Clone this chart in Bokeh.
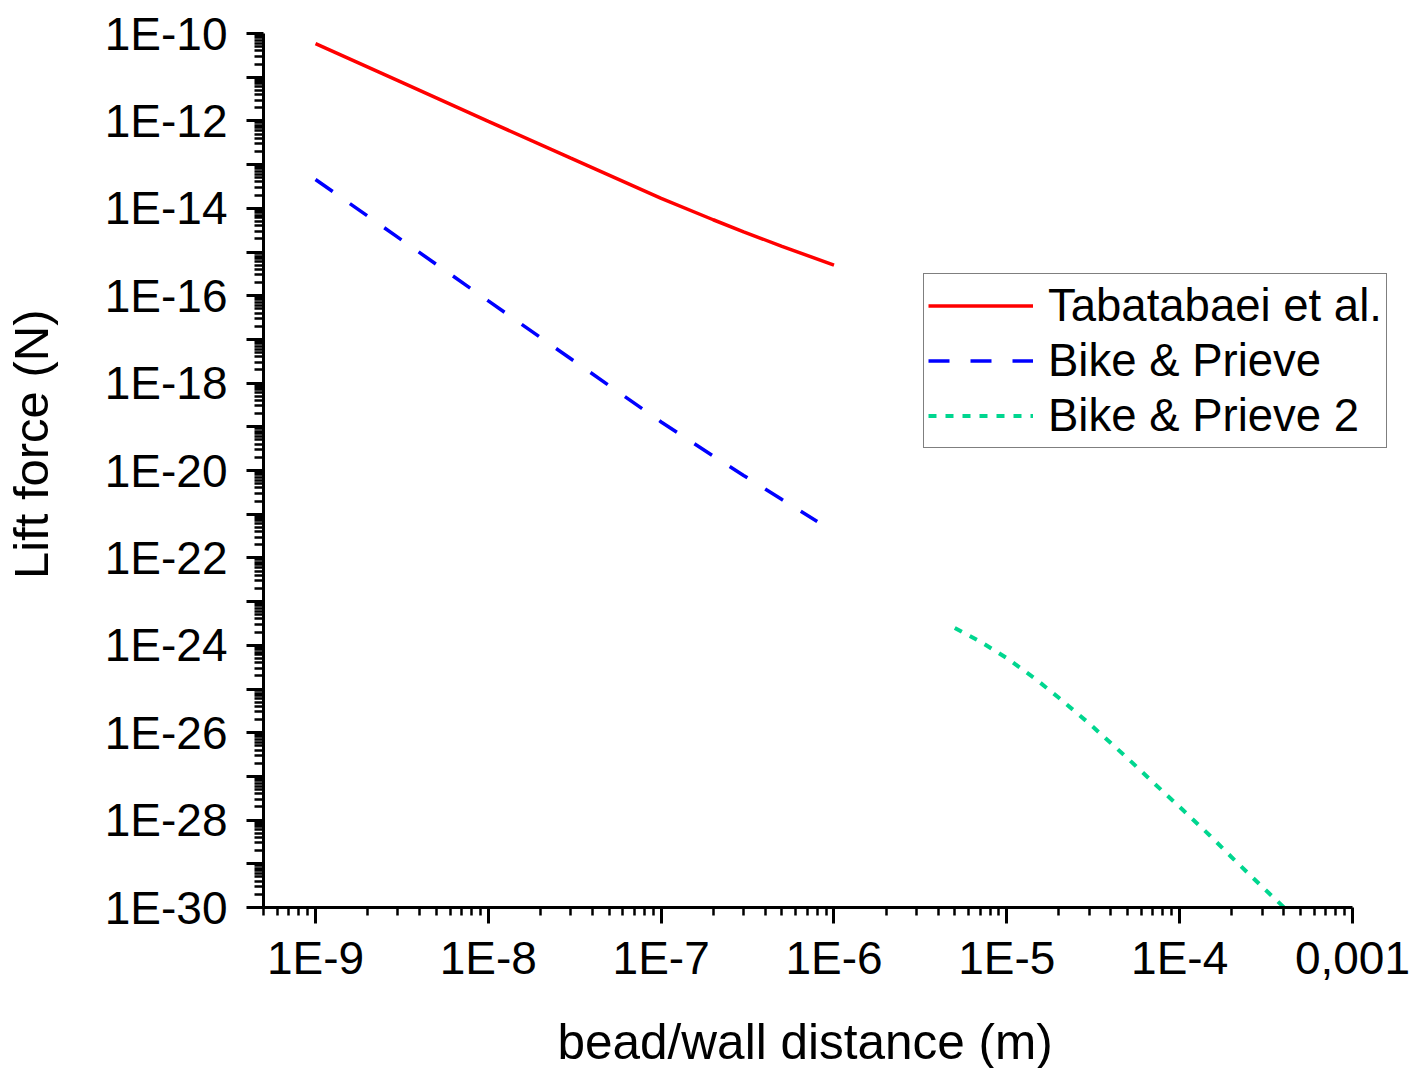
from bokeh.plotting import figure
from bokeh.models import Range1d, FixedTicker, CustomJSTickFormatter, Legend, LegendItem, Title
from bokeh.embed import file_html
from bokeh.resources import INLINE

# ---- data ----
x_tab = [1e-9, 3e-9, 1e-8, 3e-8, 1e-7, 2e-7, 3e-7, 5e-7, 1e-6]
y_tab = [5.89e-11, 8.34e-12, 9.77e-13, 1.40e-13, 1.68e-14, 5.47e-15, 2.90e-15, 1.35e-15, 5.0e-16]

x_bp = [1e-9, 3e-9, 1e-8, 3e-8, 1e-7, 2e-7, 3e-7, 5e-7, 8e-7]
y_bp = [4.57e-14, 2.16e-15, 7.6e-17, 3.6e-18, 1.29e-19, 2.14e-20, 7.7e-21, 2.16e-21, 6.8e-22]

x_bp2 = [5e-6, 7e-6, 1e-5, 1.5e-5, 2e-5, 3e-5, 5e-5, 7e-5, 1e-4, 1.5e-4, 2e-4, 3e-4, 4e-4, 4.5e-4]
y_bp2 = [2.5e-24, 1.23e-24, 5.1e-25, 1.58e-25, 6.3e-26, 1.62e-26, 2.6e-27, 7.4e-28, 2.0e-28,
         4.4e-29, 1.41e-29, 3.0e-30, 1.02e-30, 6.8e-31]

series_names = ["Tabatabaei et al.", "Bike & Prieve", "Bike & Prieve 2"]
x_title = "bead/wall distance (m)"
y_title = "Lift force (N)"

x_major = [1e-9, 1e-8, 1e-7, 1e-6, 1e-5, 1e-4, 1e-3]
x_tick_labels = ["1E-9", "1E-8", "1E-7", "1E-6", "1E-5", "1E-4", "0,001"]

y_major = [10.0 ** e for e in range(-30, -9)]
y_label_values = [10.0 ** e for e in range(-30, -9, 2)]
y_tick_labels = ["1E-30", "1E-28", "1E-26", "1E-24", "1E-22", "1E-20",
                 "1E-18", "1E-16", "1E-14", "1E-12", "1E-10"]

FONT = "Liberation Sans"

x_minor = [k * 10.0 ** e for e in range(-10, -3) for k in range(2, 10)]
y_minor = [k * 10.0 ** e for e in range(-31, -10) for k in range(2, 10)]

# x axis drawn from 5e-10 to 1e-3; the frame reaches a little further right so the legend is not clipped
x_axis_start, x_axis_end = 5e-10, 1e-3
x_frame_end = 1.705e-3

p = figure(width=1412, height=1068, x_axis_type="log", y_axis_type="log",
           x_range=Range1d(x_axis_start, x_frame_end), y_range=Range1d(1e-30, 1e-10),
           output_backend="svg", toolbar_location=None,
           title=y_title, title_location="left",
           min_border_left=263, min_border_right=20, min_border_top=33, min_border_bottom=160)

p.outline_line_color = None
p.xgrid.visible = False
p.ygrid.visible = False
p.background_fill_color = "white"
p.border_fill_color = "white"

# plot title used as the y-axis label
p.title.text_font = FONT
p.title.text_font_size = "49px"
p.title.text_font_style = "normal"
p.title.align = "right"
p.title.offset = 276
p.title.text_color = "black"

fmt_code = """
for (let i = 0; i < vals.length; i++) {
  if (Math.abs(Math.log10(tick) - Math.log10(vals[i])) < 1e-6) return labels[i];
}
return "";
"""

xa = p.xaxis[0]
xa.ticker = FixedTicker(ticks=x_major, minor_ticks=x_minor)
xa.formatter = CustomJSTickFormatter(args=dict(vals=x_major, labels=x_tick_labels), code=fmt_code)
xa.bounds = (x_axis_start, x_axis_end)
ya = p.yaxis[0]
ya.ticker = FixedTicker(ticks=y_major, minor_ticks=y_minor)
ya.formatter = CustomJSTickFormatter(args=dict(vals=y_label_values, labels=y_tick_labels), code=fmt_code)

for ax in (xa, ya):
    ax.axis_line_width = 3
    ax.axis_line_color = "black"
    ax.major_tick_line_width = 3
    ax.minor_tick_line_width = 2.5
    ax.major_tick_line_color = "black"
    ax.minor_tick_line_color = "black"
    ax.major_tick_in = 0
    ax.minor_tick_in = 0
    ax.major_label_text_font = FONT
    ax.major_label_text_font_size = "46px"
    ax.major_label_text_color = "black"

xa.major_tick_out = 16
xa.minor_tick_out = 8
xa.major_label_standoff = 8

ya.major_tick_out = 17
ya.minor_tick_out = 9
ya.major_label_standoff = 19

use_pad = True
try:
    p.title.padding = dict(left=0, right=0, top=0, bottom=44)
    p.title.standoff = 0
    xt = Title(text=x_title, align="left", offset=294, standoff=0, vertical_align="bottom",
               text_font=FONT, text_font_size="49.5px", text_font_style="normal", text_color="black")
    xt.padding = dict(left=0, right=0, top=25, bottom=0)
except Exception:
    use_pad = False

if use_pad:
    p.add_layout(xt, "below")
else:
    p.title.standoff = 44
    xa.axis_label = x_title
    xa.axis_label_text_font = FONT
    xa.axis_label_text_font_size = "49.5px"
    xa.axis_label_text_font_style = "normal"
    xa.axis_label_text_color = "black"
    xa.axis_label_standoff = 24

r1 = p.line(x_tab, y_tab, line_color="#FF0000", line_width=3.5)
r2 = p.line(x_bp, y_bp, line_color="#0000FF", line_width=3.5, line_dash="21 21")
r3 = p.line(x_bp2, y_bp2, line_color="#00D68F", line_width=4, line_dash="8 9")

legend = Legend(items=[LegendItem(label=series_names[0], renderers=[r1]),
                       LegendItem(label=series_names[1], renderers=[r2]),
                       LegendItem(label=series_names[2], renderers=[r3])],
                location=(660, 459))
legend.label_text_font = FONT
legend.label_text_font_size = "45.5px"
legend.label_text_color = "black"
legend.glyph_width = 105
legend.glyph_height = 55
legend.label_height = 55
legend.label_standoff = 15
legend.padding = 4
legend.spacing = 0
legend.margin = 0
legend.border_line_color = "black"
legend.border_line_width = 1
legend.background_fill_color = "white"
legend.background_fill_alpha = 1.0
p.add_layout(legend, "center")

open("out.html", "w").write(file_html(p, INLINE))
